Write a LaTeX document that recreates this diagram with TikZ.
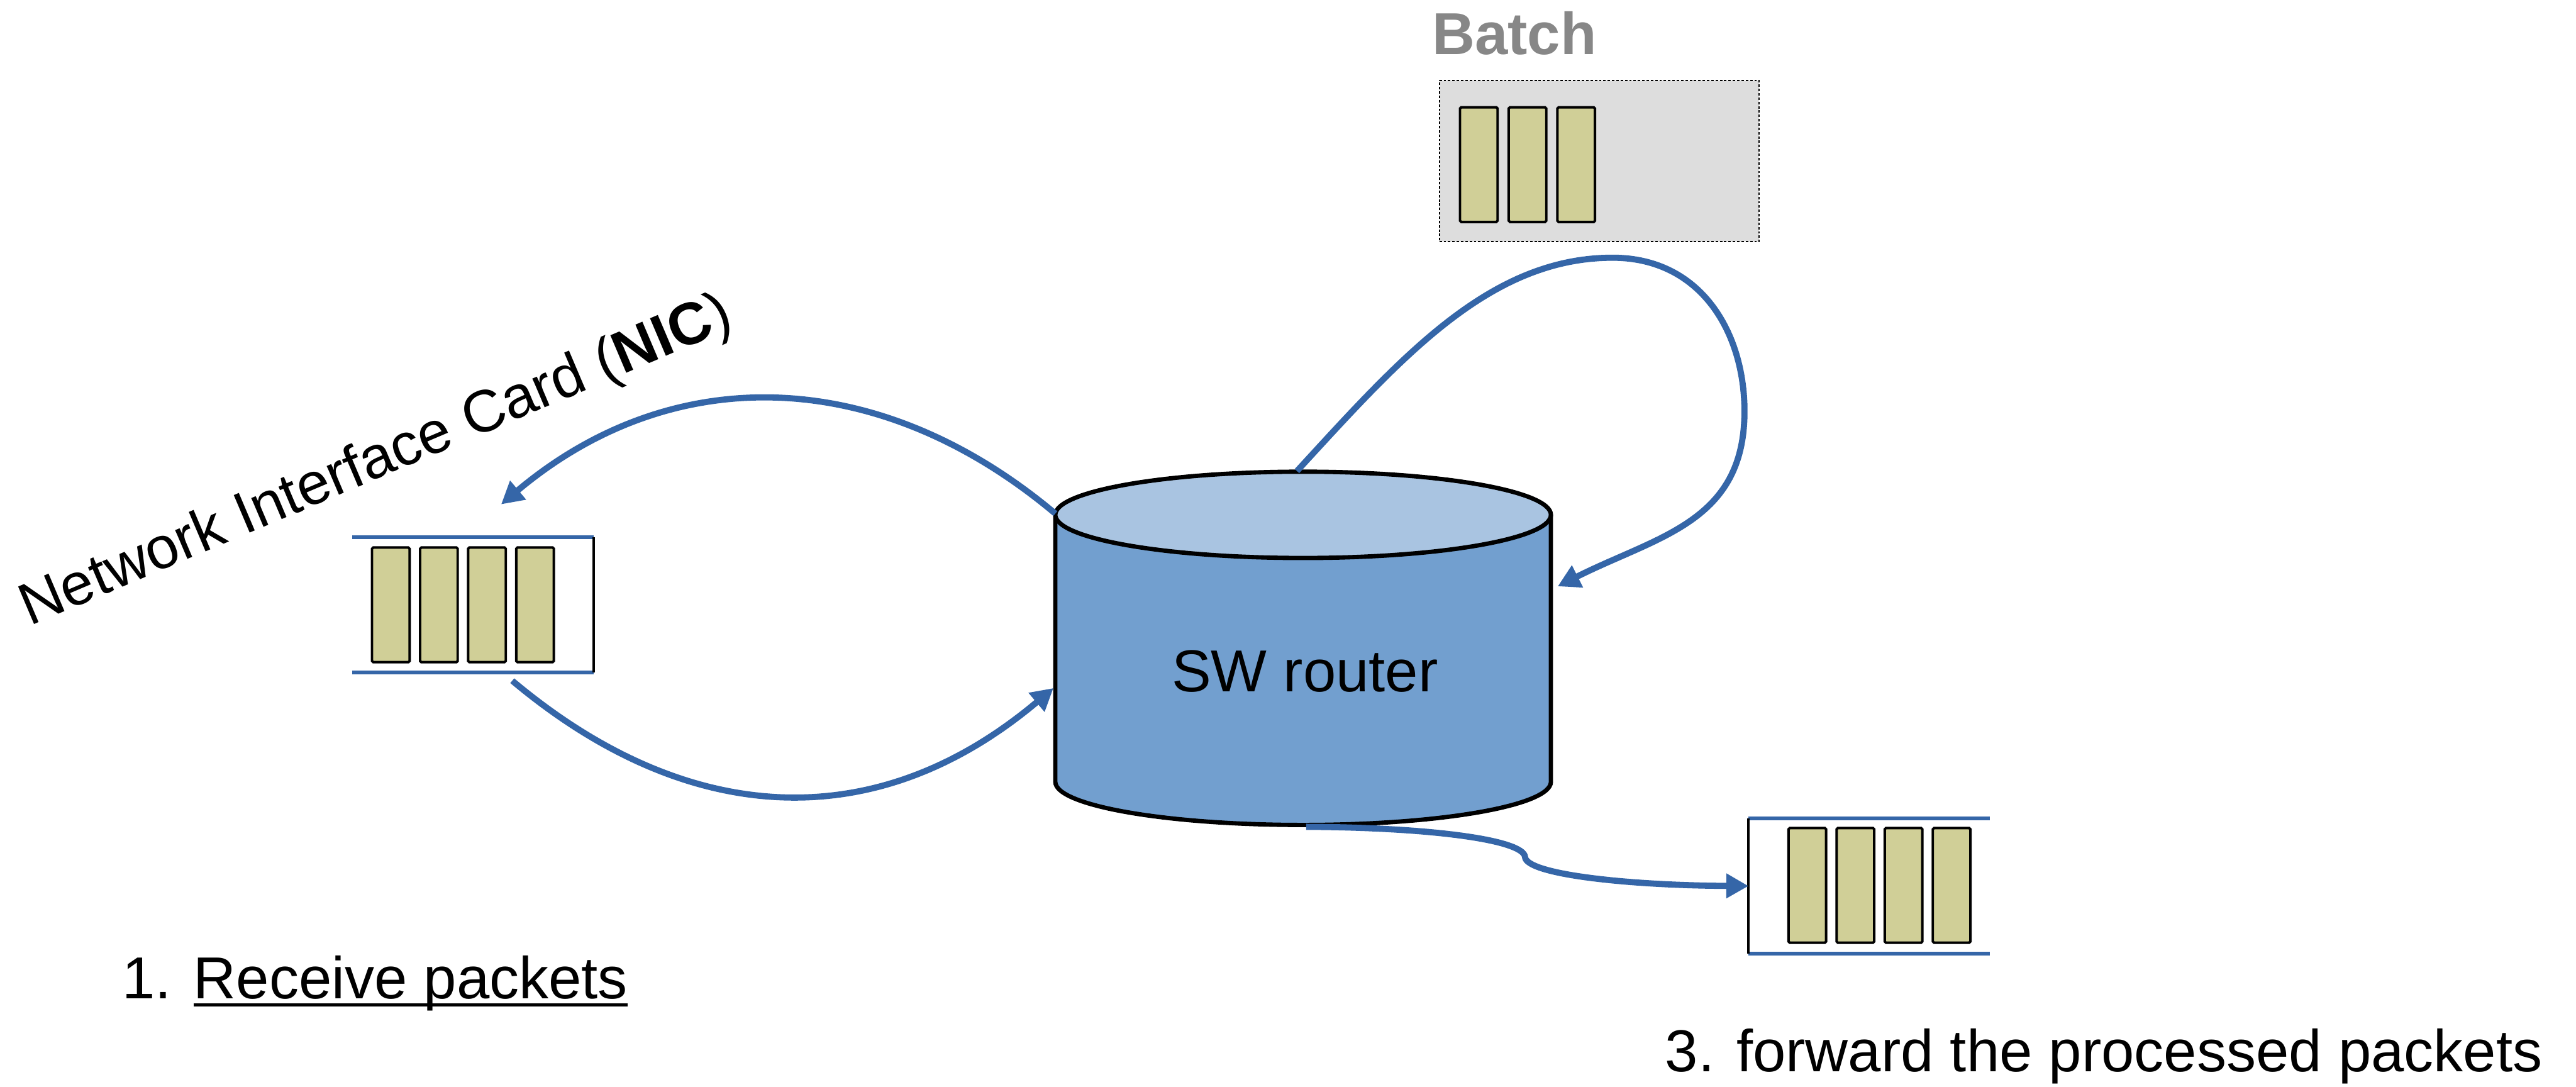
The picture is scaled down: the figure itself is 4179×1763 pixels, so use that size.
\documentclass[tikz,border=0pt]{standalone}
\usepackage{fontspec}
\setmainfont{Liberation Sans}
\usetikzlibrary{arrows.meta}

\definecolor{flow}{HTML}{3566A8}
\definecolor{pkt}{HTML}{D0CF97}
\definecolor{cylside}{HTML}{729FCF}
\definecolor{cyltop}{HTML}{A9C4E1}
\definecolor{batchbg}{HTML}{DDDDDD}
\definecolor{batchtxt}{HTML}{878787}

% underlined text with a rule sized to the Arial-like face
\newcommand\ulined[1]{\setbox0\hbox{#1}\rlap{\rule[-0.13em]{\wd0}{0.05em}}\box0}

\begin{document}
\begin{tikzpicture}[x=0.5pt,y=-0.5pt,
  lbl/.style={font=\fontsize{48}{58}\selectfont, inner sep=0pt},
  packet/.style={draw=black, line width=2pt, fill=pkt, rounded corners=1pt,
    minimum width=30.5pt, minimum height=93pt, inner sep=0pt},
  queuebox/.style={minimum width=195.5pt, minimum height=109pt, inner sep=0pt},
  qline/.style={draw=flow, line width=3pt},
  qend/.style={draw=black, line width=2pt},
  batchbox/.style={draw=black, line width=1pt, dash pattern=on 2pt off 1.5pt,
    fill=batchbg, minimum width=259.5pt, minimum height=130.5pt, inner sep=0pt},
  flowarrow/.style={draw=flow, line width=5pt, -{Triangle[length=18pt,width=19pt]}},
]
\useasboundingbox (0,0) rectangle (4179,1763);

% ---- batch buffer ----
\node[lbl, anchor=base west, text=batchtxt, font=\fontsize{48}{58}\selectfont\bfseries] (batchlbl) at (2323,88) {Batch};
\node[batchbox] (batch) at (2594.5,261.5) {};
\node[packet] (b1) at (2399,267) {};
\node[packet] (b2) at (2478,267) {};
\node[packet] (b3) at (2557,267) {};

% ---- NIC receive queue ----
\node[queuebox] (nicq) at (767.5,981) {};
\draw[qline] (nicq.north west) -- (nicq.north east);
\draw[qline] (nicq.south west) -- (nicq.south east);
\draw[qend] (nicq.north east) -- (nicq.south east);
\node[packet] (n1) at (634,981) {};
\node[packet] (n2) at (712,981) {};
\node[packet] (n3) at (790,981) {};
\node[packet] (n4) at (868,981) {};
\coordinate (nicIn) at (813,818);
\coordinate (nicOut) at (831,1104);

% ---- transmit queue ----
\node[queuebox] (outq) at (3032.5,1437) {};
\draw[qline] (outq.north west) -- (outq.north east);
\draw[qline] (outq.south west) -- (outq.south east);
\draw[qend] (outq.north west) -- (outq.south west);
\node[packet] (o1) at (2932,1436) {};
\node[packet] (o2) at (3010,1436) {};
\node[packet] (o3) at (3088,1436) {};
\node[packet] (o4) at (3166,1436) {};

% ---- software router cylinder ----
\path[fill=cylside, draw=black, line width=3.5pt]
  (1712,835) -- (1712,1268) arc[start angle=180, end angle=0, x radius=402, y radius=70] -- (2516,835);
\draw[fill=cyltop, line width=3.5pt] (2114,835) ellipse[x radius=402, y radius=70];
\node[lbl, anchor=base] (router) at (2117,1122) {SW router};
\coordinate (routerTopL) at (1712,833);
\coordinate (routerTop) at (2104,764);
\coordinate (routerSideR) at (2527,951);
\coordinate (routerSideL) at (1709,1116);
\coordinate (routerBottom) at (2119,1341);

% ---- packet flow ----
\draw[flowarrow] (routerTopL) .. controls (1430,596) and (1095,581) .. (nicIn);
\draw[flowarrow] (nicOut) .. controls (1106,1335) and (1413,1365) .. (routerSideL);
\draw[flowarrow] (routerTop) .. controls (2273,580) and (2416,418) .. (2616,418)
  .. controls (2760,418) and (2830,540) .. (2830,667)
  .. controls (2830,847) and (2690,869) .. (routerSideR);
\draw[flowarrow] (routerBottom) .. controls (2320,1342) and (2472,1362) .. (2474,1390)
  .. controls (2476,1418) and (2640,1436) .. (outq.west);

% ---- labels ----
\node[lbl, anchor=base west, rotate=23] (niclbl) at (48,1016) {Network Interface Card (\textbf{NIC})};
\node[lbl, anchor=base west] (step1) at (198,1620) {1. \ulined{Receive packets}};
\node[lbl, anchor=base west] (step3) at (2701,1738) {3. forward the processed packets};
\end{tikzpicture}
\end{document}
